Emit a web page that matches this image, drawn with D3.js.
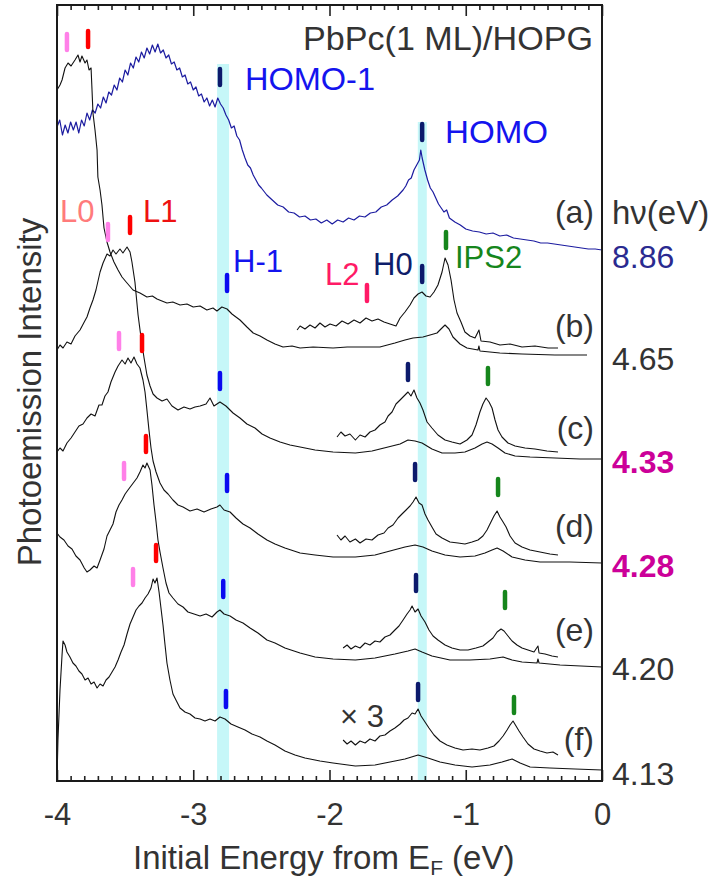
<!DOCTYPE html>
<html>
<head>
<meta charset="utf-8">
<script src="https://cdn.jsdelivr.net/npm/d3@7"></script>
<style>
  body { margin: 0; background: #fff; }
  text { font-family: "Liberation Sans", Arial, sans-serif; }
</style>
</head>
<body>
<div id="chart"></div>
<script>
// spectra as [initial energy (eV), intensity above own baseline (arb. units)]
var specA = [[-4.00,123],[-3.98,130],[-3.96,115],[-3.94,125],[-3.92,117],[-3.90,128],[-3.88,120],[-3.86,128],[-3.84,117],[-3.82,130],
  [-3.80,124],[-3.78,137],[-3.76,130],[-3.74,140],[-3.72,137],[-3.70,146],[-3.68,142],[-3.66,153],[-3.64,147],[-3.62,158],
  [-3.60,155],[-3.58,165],[-3.56,160],[-3.54,172],[-3.52,168],[-3.50,180],[-3.48,175],[-3.46,187],[-3.44,182],[-3.42,193],
  [-3.40,188],[-3.38,198],[-3.36,192],[-3.34,202],[-3.32,196],[-3.30,205],[-3.28,198],[-3.26,206],[-3.24,197],[-3.22,200],
  [-3.20,192],[-3.18,195],[-3.16,186],[-3.14,188],[-3.12,180],[-3.10,182],[-3.08,173],[-3.06,175],[-3.04,166],[-3.02,168],
  [-3.00,160],[-2.98,163],[-2.96,154],[-2.94,156],[-2.92,148],[-2.90,152],[-2.88,144],[-2.86,150],[-2.84,143],[-2.82,152],
  [-2.80,146],[-2.78,142],[-2.76,135],[-2.74,130],[-2.72,122],[-2.70,124],[-2.68,114],[-2.66,110],[-2.64,100],[-2.62,92],
  [-2.60,85],[-2.58,82],[-2.56,75],[-2.54,70],[-2.52,65],[-2.50,62],[-2.46,55],[-2.42,50],[-2.38,45],[-2.34,43],
  [-2.30,38],[-2.26,37],[-2.22,33],[-2.18,34],[-2.14,30],[-2.10,31],[-2.06,27],[-2.02,30],[-1.98,26],[-1.94,30],
  [-1.90,28],[-1.86,32],[-1.82,30],[-1.78,34],[-1.74,33],[-1.70,37],[-1.66,38],[-1.62,43],[-1.58,45],[-1.54,50],
  [-1.50,54],[-1.46,60],[-1.44,64],[-1.42,70],[-1.40,72],[-1.38,80],[-1.36,85],[-1.34,90],[-1.33,100],[-1.32,92],
  [-1.30,80],[-1.28,70],[-1.26,62],[-1.24,58],[-1.22,52],[-1.20,46],[-1.18,42],[-1.16,38],[-1.14,40],[-1.12,32],
  [-1.08,28],[-1.04,25],[-1.00,21],[-0.95,19],[-0.90,18],[-0.85,16],[-0.80,17],[-0.75,14],[-0.70,15],[-0.65,12],
  [-0.60,11],[-0.55,10],[-0.50,9],[-0.45,7],[-0.40,7],[-0.35,6],[-0.30,5],[-0.25,4],[-0.20,3],[-0.15,2],
  [-0.10,1],[-0.05,1],[0.00,0]];

var specB = [[-4.00,265],[-3.978,270],[-3.963,275],[-3.941,287],[-3.919,292],[-3.897,289],[-3.868,295],[-3.846,300],[-3.831,293],
  [-3.817,299],[-3.794,292],[-3.78,295],[-3.765,285],[-3.75,287],[-3.743,265],[-3.736,242],[-3.721,225],[-3.706,205],
  [-3.70,178],[-3.684,165],[-3.67,150],[-3.655,127],[-3.633,113],[-3.611,103],[-3.582,93],[-3.552,85],[-3.523,78],
  [-3.486,72],[-3.442,65],[-3.391,62],[-3.34,58],[-3.30,59],[-3.266,56],[-3.23,54],[-3.193,52],[-3.15,53],[-3.097,50],
  [-3.046,51],[-3.00,48],[-2.95,49],[-2.90,45],[-2.855,47],[-2.826,44],[-2.79,48],[-2.752,46],[-2.716,41],[-2.657,35],
  [-2.606,28],[-2.56,22],[-2.51,19],[-2.459,15],[-2.40,11],[-2.341,8],[-2.275,9],[-2.216,7],[-2.12,8],[-1.974,7],
  [-1.87,8],[-1.776,8],[-1.63,8],[-1.52,12],[-1.446,15],[-1.387,17],[-1.314,18],[-1.262,20],[-1.211,22],[-1.182,26],
  [-1.152,30],[-1.123,26],[-1.094,18],[-1.042,11],[-0.991,7],[-0.91,5],[-0.903,9],[-0.896,4],[-0.75,2],[-0.587,1],
  [-0.345,0],[-0.11,0]];

var specBx3 = [[-2.238,25],[-2.216,29],[-2.18,26],[-2.143,30],[-2.106,27],[-2.07,32],[-2.033,28],[-1.996,31],[-1.952,29],
  [-1.908,34],[-1.864,31],[-1.82,35],[-1.776,32],[-1.732,37],[-1.688,34],[-1.644,36],[-1.60,33],[-1.556,31],[-1.512,29],
  [-1.482,37],[-1.446,43],[-1.409,50],[-1.38,57],[-1.35,61],[-1.321,63],[-1.292,59],[-1.262,58],[-1.233,63],[-1.204,70],
  [-1.174,83],[-1.152,97],[-1.13,90],[-1.108,75],[-1.086,55],[-1.064,42],[-1.035,33],[-1.006,23],[-0.969,19],[-0.932,17],
  [-0.903,25],[-0.888,14],[-0.822,13],[-0.749,10],[-0.675,11],[-0.587,8],[-0.492,9],[-0.396,7],[-0.323,7]];

var specC = [[-4.00,109],[-3.978,114],[-3.956,111],[-3.927,117],[-3.897,115],[-3.868,123],[-3.831,129],[-3.80,137],[-3.78,142],
  [-3.758,151],[-3.736,159],[-3.714,169],[-3.684,187],[-3.662,196],[-3.633,205],[-3.611,203],[-3.589,209],[-3.567,205],
  [-3.538,210],[-3.516,206],[-3.486,212],[-3.464,207],[-3.45,197],[-3.428,177],[-3.405,144],[-3.383,121],[-3.361,101],
  [-3.34,84],[-3.317,73],[-3.295,65],[-3.266,61],[-3.229,58],[-3.193,60],[-3.156,53],[-3.112,49],[-3.068,52],[-3.024,50],
  [-2.987,52],[-2.95,53],[-2.906,55],[-2.877,61],[-2.848,53],[-2.804,57],[-2.76,53],[-2.708,46],[-2.657,41],[-2.606,35],
  [-2.547,31],[-2.495,25],[-2.437,21],[-2.363,17],[-2.29,14],[-2.216,12],[-2.106,9],[-1.974,7],[-1.81,6],[-1.688,8],
  [-1.57,12],[-1.482,15],[-1.424,19],[-1.372,18],[-1.321,16],[-1.248,10],[-1.174,6],[-1.079,6],[-1.006,7],[-0.932,11],
  [-0.88,15],[-0.844,17],[-0.807,15],[-0.763,11],[-0.712,6],[-0.638,3],[-0.528,2],[-0.345,1],[-0.161,0],[0.00,0]];

var specCx3 = [[-1.945,22],[-1.916,27],[-1.886,23],[-1.85,25],[-1.81,19],[-1.776,24],[-1.739,22],[-1.703,27],[-1.666,29],
  [-1.63,34],[-1.593,37],[-1.57,43],[-1.541,47],[-1.512,55],[-1.482,59],[-1.453,63],[-1.424,67],[-1.402,63],[-1.38,69],
  [-1.358,61],[-1.336,56],[-1.314,49],[-1.284,37],[-1.248,31],[-1.204,24],[-1.152,19],[-1.101,17],[-1.042,15],[-0.991,19],
  [-0.954,24],[-0.925,34],[-0.896,47],[-0.874,55],[-0.851,61],[-0.829,57],[-0.807,51],[-0.785,39],[-0.763,29],[-0.734,22],
  [-0.69,16],[-0.638,13],[-0.565,11],[-0.492,10],[-0.404,8],[-0.323,7]];

var specD = [[-4.00,111],[-3.978,115],[-3.956,112],[-3.927,120],[-3.897,125],[-3.868,131],[-3.839,137],[-3.809,139],[-3.78,145],
  [-3.75,149],[-3.721,147],[-3.692,158],[-3.67,158],[-3.648,167],[-3.626,171],[-3.604,181],[-3.574,191],[-3.552,197],
  [-3.523,203],[-3.50,199],[-3.479,205],[-3.457,200],[-3.435,206],[-3.413,199],[-3.391,195],[-3.369,183],[-3.354,171],
  [-3.34,153],[-3.325,133],[-3.31,115],[-3.295,102],[-3.273,91],[-3.244,80],[-3.215,73],[-3.185,69],[-3.149,63],[-3.112,58],
  [-3.075,56],[-3.024,52],[-2.972,54],[-2.921,51],[-2.87,54],[-2.826,56],[-2.804,58],[-2.774,53],[-2.73,51],[-2.686,45],
  [-2.635,39],[-2.583,35],[-2.525,29],[-2.459,23],[-2.40,19],[-2.327,15],[-2.216,10],[-2.106,8],[-1.974,6],[-1.81,6],
  [-1.666,8],[-1.556,12],[-1.446,16],[-1.372,18],[-1.314,16],[-1.248,12],[-1.152,8],[-1.042,6],[-0.932,7],[-0.859,10],
  [-0.807,13],[-0.77,15],[-0.726,12],[-0.66,6],[-0.565,3],[-0.455,1],[-0.235,1],[0.00,0]];

var specDx3 = [[-1.945,28],[-1.916,23],[-1.886,27],[-1.85,21],[-1.81,24],[-1.776,20],[-1.732,24],[-1.688,23],[-1.644,28],
  [-1.60,30],[-1.57,35],[-1.534,38],[-1.497,45],[-1.468,49],[-1.438,53],[-1.409,57],[-1.387,61],[-1.365,66],[-1.343,60],
  [-1.321,58],[-1.299,49],[-1.277,43],[-1.248,36],[-1.218,29],[-1.174,25],[-1.116,21],[-1.057,20],[-1.006,19],[-0.954,21],
  [-0.91,23],[-0.874,27],[-0.844,33],[-0.815,41],[-0.793,47],[-0.77,52],[-0.749,46],[-0.726,41],[-0.704,36],[-0.675,27],
  [-0.638,20],[-0.587,16],[-0.528,13],[-0.455,11],[-0.382,9],[-0.323,8]];

var specE = [[-4.00,134],[-3.978,130],[-3.949,127],[-3.919,121],[-3.89,118],[-3.861,111],[-3.831,107],[-3.80,99],[-3.78,95],
  [-3.758,97],[-3.728,101],[-3.706,99],[-3.684,107],[-3.655,118],[-3.633,131],[-3.611,137],[-3.589,143],[-3.567,155],
  [-3.545,162],[-3.523,167],[-3.50,173],[-3.479,177],[-3.457,181],[-3.435,185],[-3.413,189],[-3.391,195],[-3.369,202],
  [-3.354,199],[-3.34,204],[-3.317,197],[-3.303,182],[-3.288,162],[-3.273,145],[-3.259,127],[-3.244,115],[-3.222,99],
  [-3.20,84],[-3.178,74],[-3.149,69],[-3.112,63],[-3.075,60],[-3.039,55],[-2.994,53],[-2.95,51],[-2.906,53],[-2.862,50],
  [-2.826,55],[-2.804,57],[-2.774,53],[-2.73,51],[-2.686,47],[-2.635,44],[-2.583,39],[-2.525,34],[-2.459,27],[-2.40,24],
  [-2.327,19],[-2.216,14],[-2.106,10],[-1.974,8],[-1.81,7],[-1.666,9],[-1.52,13],[-1.424,16],[-1.372,18],[-1.321,15],
  [-1.248,11],[-1.116,7],[-0.969,7],[-0.822,8],[-0.726,10],[-0.66,7],[-0.587,5],[-0.477,4],[-0.47,8],[-0.462,4],
  [-0.308,2],[0.00,0]];

var specEx3 = [[-1.90,19],[-1.871,22],[-1.842,18],[-1.81,21],[-1.776,19],[-1.739,24],[-1.703,22],[-1.666,26],[-1.63,25],
  [-1.593,30],[-1.556,32],[-1.52,37],[-1.49,41],[-1.46,47],[-1.431,53],[-1.409,57],[-1.394,61],[-1.372,55],[-1.35,58],
  [-1.328,51],[-1.299,45],[-1.27,37],[-1.24,31],[-1.204,27],[-1.152,22],[-1.101,19],[-1.042,17],[-0.983,17],[-0.925,19],
  [-0.874,21],[-0.837,25],[-0.80,29],[-0.77,35],[-0.741,38],[-0.719,36],[-0.69,31],[-0.66,26],[-0.624,22],[-0.587,19],
  [-0.543,17],[-0.499,15],[-0.47,21],[-0.462,14],[-0.418,13],[-0.367,11],[-0.323,10]];

var specF = [[-4.00,-10],[-3.993,30],[-3.978,80],[-3.963,115],[-3.956,129],[-3.941,125],[-3.927,118],[-3.905,113],[-3.883,107],
  [-3.861,104],[-3.839,99],[-3.817,96],[-3.794,90],[-3.772,92],[-3.75,86],[-3.728,88],[-3.706,82],[-3.684,86],[-3.662,84],
  [-3.64,90],[-3.618,93],[-3.596,98],[-3.574,103],[-3.552,110],[-3.53,118],[-3.508,125],[-3.486,136],[-3.464,146],
  [-3.442,153],[-3.42,160],[-3.398,164],[-3.376,167],[-3.354,172],[-3.332,176],[-3.31,182],[-3.295,191],[-3.281,187],
  [-3.266,192],[-3.251,178],[-3.237,162],[-3.222,145],[-3.207,125],[-3.193,107],[-3.171,90],[-3.149,76],[-3.127,70],
  [-3.097,62],[-3.061,58],[-3.024,56],[-2.987,52],[-2.95,51],[-2.914,49],[-2.877,51],[-2.84,49],[-2.804,53],[-2.767,51],
  [-2.723,46],[-2.672,43],[-2.62,40],[-2.569,36],[-2.51,33],[-2.459,29],[-2.40,25],[-2.327,19],[-2.253,15],[-2.18,12],
  [-2.07,9],[-1.974,7],[-1.81,4],[-1.666,5],[-1.556,8],[-1.446,11],[-1.35,15],[-1.277,12],[-1.189,8],[-1.079,5],
  [-0.954,3],[-0.822,5],[-0.734,8],[-0.66,11],[-0.601,7],[-0.528,3],[-0.382,2],[-0.198,1],[0.00,0]];

var specFx3 = [[-1.90,30],[-1.871,26],[-1.842,29],[-1.81,25],[-1.776,29],[-1.739,27],[-1.703,31],[-1.666,29],[-1.63,34],
  [-1.593,35],[-1.556,39],[-1.52,42],[-1.482,46],[-1.453,50],[-1.424,52],[-1.394,57],[-1.372,56],[-1.35,61],[-1.328,54],
  [-1.299,48],[-1.27,42],[-1.233,35],[-1.189,29],[-1.138,25],[-1.079,22],[-1.02,20],[-0.954,21],[-0.896,20],[-0.837,22],
  [-0.793,24],[-0.756,29],[-0.726,34],[-0.697,40],[-0.675,45],[-0.653,49],[-0.631,44],[-0.609,39],[-0.58,33],[-0.543,26],
  [-0.499,21],[-0.455,19],[-0.404,17],[-0.36,18],[-0.323,15]];

// waterfall offsets (arb. units) for (a)..(f)
var offsets = [531, 426, 322, 218, 114, 11];
var panels = ['(a)', '(b)', '(c)', '(d)', '(e)', '(f)'];
var photonEnergies = ['8.86', '4.65', '4.33', '4.28', '4.20', '4.13'];

// peak markers: spectrum index, kind, energy (eV), level (arb. units)
var markers = [
  {s: 0, k: 'H0', e: -2.804, v: 704}, {s: 0, k: 'H0', e: -1.32, v: 649},
  {s: 1, k: 'L0', e: -3.927, v: 739}, {s: 1, k: 'L1', e: -3.772, v: 742}, {s: 1, k: 'H1', e: -2.752, v: 498},
  {s: 1, k: 'L2', e: -1.725, v: 488}, {s: 1, k: 'H0', e: -1.32, v: 507}, {s: 1, k: 'IPS', e: -1.145, v: 541},
  {s: 2, k: 'L0', e: -3.626, v: 549}, {s: 2, k: 'L1', e: -3.464, v: 556}, {s: 2, k: 'H1', e: -2.804, v: 400},
  {s: 2, k: 'H0', e: -1.424, v: 409}, {s: 2, k: 'IPS', e: -0.837, v: 405},
  {s: 3, k: 'L0', e: -3.545, v: 440}, {s: 3, k: 'L1', e: -3.376, v: 438}, {s: 3, k: 'H1', e: -2.752, v: 298},
  {s: 3, k: 'H0', e: -1.372, v: 309}, {s: 3, k: 'IPS', e: -0.763, v: 294},
  {s: 4, k: 'L0', e: -3.508, v: 310}, {s: 4, k: 'L1', e: -3.347, v: 337}, {s: 4, k: 'H1', e: -2.78, v: 192},
  {s: 4, k: 'H0', e: -1.365, v: 198}, {s: 4, k: 'IPS', e: -0.712, v: 181},
  {s: 5, k: 'L0', e: -3.442, v: 204}, {s: 5, k: 'L1', e: -3.273, v: 228}, {s: 5, k: 'H1', e: -2.76, v: 82},
  {s: 5, k: 'H0', e: -1.35, v: 89}, {s: 5, k: 'IPS', e: -0.646, v: 76}
];

// shaded energy bands: HOMO-1 and HOMO, [from, to, top level]
var bands = [[-2.825, -2.737, 717], [-1.352, -1.286, 659]];

var width = 715, height = 886,
    margin = {top: 5, right: 113, bottom: 105, left: 57},
    markerColours = {L0: '#ff80e8', L1: '#ff0000', H1: '#0a0af0', H0: '#0c1a6c', IPS: '#16861c', L2: '#ff1a66'},
    fontStack = '"Liberation Sans", Arial, sans-serif';

var x = d3.scaleLinear().domain([-4, 0]).range([margin.left, width - margin.right]),
    y = d3.scaleLinear().domain([0, 776]).range([height - margin.bottom, margin.top]);

var svg = d3.select('#chart').append('svg')
    .attr('width', width)
    .attr('height', height);

svg.append('clipPath').attr('id', 'plotclip')
    .append('rect')
    .attr('x', x(-4)).attr('y', y(776))
    .attr('width', x(0) - x(-4)).attr('height', y(0) - y(776));

var plot = svg.append('g').attr('clip-path', 'url(#plotclip)');

// cyan bands
plot.selectAll('rect.band')
    .data(bands)
    .enter().append('rect')
    .attr('class', 'band')
    .attr('x', function (d) { return x(d[0]); })
    .attr('width', function (d) { return x(d[1]) - x(d[0]); })
    .attr('y', function (d) { return y(d[2]); })
    .attr('height', function (d) { return y(0) - y(d[2]); })
    .style('fill', '#c6f7f8');

// curves
var curves = [
  {data: specA, s: 0, colour: '#1c1ca0', w: 1.2},
  {data: specB, s: 1}, {data: specBx3, s: 1},
  {data: specC, s: 2}, {data: specCx3, s: 2},
  {data: specD, s: 3}, {data: specDx3, s: 3},
  {data: specE, s: 4}, {data: specEx3, s: 4},
  {data: specF, s: 5}, {data: specFx3, s: 5}
];

plot.selectAll('path.spec')
    .data(curves)
    .enter().append('path')
    .attr('class', 'spec')
    .attr('d', function (c) {
        return d3.line()
            .x(function (d) { return x(d[0]); })
            .y(function (d) { return y(d[1] + offsets[c.s]); })(c.data);
    })
    .style('fill', 'none')
    .style('stroke', function (c) { return c.colour || '#111'; })
    .style('stroke-width', function (c) { return c.w || 1.1; })
    .style('stroke-linejoin', 'round');

// peak markers
svg.selectAll('line.marker')
    .data(markers)
    .enter().append('line')
    .attr('class', 'marker')
    .attr('x1', function (d) { return x(d.e); })
    .attr('x2', function (d) { return x(d.e); })
    .attr('y1', function (d) { return y(d.v) - 8; })
    .attr('y2', function (d) { return y(d.v) + 8; })
    .style('stroke', function (d) { return markerColours[d.k]; })
    .style('stroke-width', 4.5)
    .style('stroke-linecap', 'round');

// axes: inward ticks on bottom and top
var majors = [-4, -3, -2, -1, 0],
    minors = d3.range(-40, 1).map(function (i) { return i / 10; })
        .filter(function (v) { return Math.abs(v - Math.round(v)) > 1e-6; });

function styleTicks(g) {
    g.select('.domain').remove();
    g.selectAll('line').style('stroke', '#222').style('stroke-width', 1.6);
}

var xAxisBottom = svg.append('g')
    .attr('transform', 'translate(0,' + y(0) + ')')
    .call(d3.axisBottom(x).tickValues(majors).tickSizeInner(-11).tickSizeOuter(0)
        .tickPadding(22).tickFormat(function (d) { return String(d); }));
styleTicks(xAxisBottom);
xAxisBottom.selectAll('text').style('font-size', '31px').style('fill', '#333').style('font-family', fontStack);

var xAxisBottomMinor = svg.append('g')
    .attr('transform', 'translate(0,' + y(0) + ')')
    .call(d3.axisBottom(x).tickValues(minors).tickSizeInner(-5).tickSizeOuter(0).tickFormat(''));
styleTicks(xAxisBottomMinor);

var xAxisTop = svg.append('g')
    .attr('transform', 'translate(0,' + y(776) + ')')
    .call(d3.axisTop(x).tickValues(majors).tickSizeInner(-11).tickSizeOuter(0).tickFormat(''));
styleTicks(xAxisTop);

var xAxisTopMinor = svg.append('g')
    .attr('transform', 'translate(0,' + y(776) + ')')
    .call(d3.axisTop(x).tickValues(minors).tickSizeInner(-5).tickSizeOuter(0).tickFormat(''));
styleTicks(xAxisTopMinor);

// frame
svg.append('rect')
    .attr('x', x(-4)).attr('y', y(776))
    .attr('width', x(0) - x(-4)).attr('height', y(0) - y(776))
    .style('fill', 'none').style('stroke', '#1a1a1a').style('stroke-width', 2);

// axis titles
var xt = svg.append('text')
    .attr('x', 133).attr('y', 869)
    .style('font-size', '33px').style('fill', '#333');
xt.append('tspan').text('Initial Energy from E');
xt.append('tspan').attr('dy', 6).style('font-size', '21px').text('F');
xt.append('tspan').attr('dy', -6).text(' (eV)');

svg.append('text')
    .attr('transform', 'translate(41,392) rotate(-90)')
    .attr('text-anchor', 'middle')
    .style('font-size', '33px').style('fill', '#333')
    .text('Photoemission Intensity');

// panel letters and photon energies
var panelBase = [223, 337, 439, 537, 641, 750],
    hvBase = [268, 370, 473, 577, 680, 785];

svg.selectAll('text.panel')
    .data(panels)
    .enter().append('text')
    .attr('class', 'panel')
    .attr('x', 594)
    .attr('y', function (d, i) { return panelBase[i]; })
    .attr('text-anchor', 'end')
    .style('font-size', '32px').style('fill', '#333')
    .text(function (d) { return d; });

svg.selectAll('text.hv')
    .data(photonEnergies)
    .enter().append('text')
    .attr('class', 'hv')
    .attr('x', 612)
    .attr('y', function (d, i) { return hvBase[i]; })
    .style('font-size', '32px')
    .style('font-weight', function (d, i) { return (i === 2 || i === 3) ? 'bold' : 'normal'; })
    .style('fill', function (d, i) { return i === 0 ? '#2a2a90' : ((i === 2 || i === 3) ? '#cc0099' : '#333'); })
    .text(function (d) { return d; });

svg.append('text').attr('x', 612).attr('y', 224)
    .style('font-size', '33px').style('fill', '#333').text('h\u03bd(eV)');

// annotations
function label(t, x0, yb, colour, size, len) {
    var el = svg.append('text').attr('x', x0).attr('y', yb)
        .style('font-size', size + 'px').style('fill', colour).text(t);
    if (len) el.attr('textLength', len).attr('lengthAdjust', 'spacingAndGlyphs');
    return el;
}
label('PbPc(1 ML)/HOPG', 303, 50, '#333', 33, 290);
label('HOMO-1', 245, 90, '#1414ee', 32, 130);
label('HOMO', 445, 143, '#1414ee', 32, 103);
label('L0', 60, 222, '#ff7b7b', 31);
label('L1', 143, 222, '#ee1111', 31);
label('H-1', 233, 272, '#1414ee', 31);
label('L2', 325, 285, '#ff1a66', 31);
label('H0', 373, 275, '#0e1d6a', 31);
label('IPS2', 455, 268, '#16861c', 31);
label('\u00d7 3', 340, 727, '#333', 31);
</script>
</body>
</html>
